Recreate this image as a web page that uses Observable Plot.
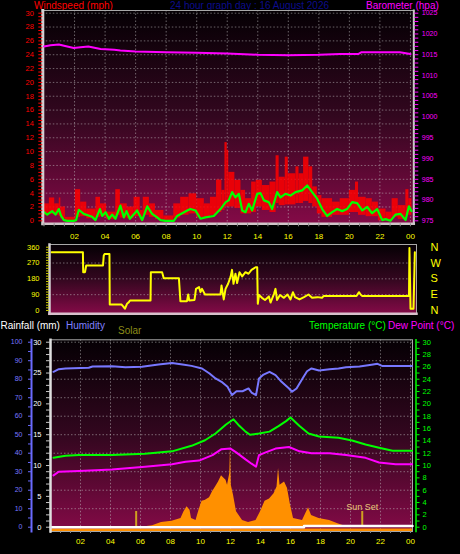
<!DOCTYPE html>
<html><head><meta charset="utf-8">
<script src="https://cdn.jsdelivr.net/npm/d3@7"></script>
<script src="https://cdn.jsdelivr.net/npm/@observablehq/plot@0.6"></script>
<style>
html,body{margin:0;padding:0;background:#000;}
#wrap{position:relative;width:460px;height:554px;overflow:hidden;background:#000;font-family:"Liberation Sans",Arial,sans-serif;}
#wrap svg{position:absolute;left:0;}
.lbl{position:absolute;font-size:10px;line-height:1;white-space:nowrap;}
</style></head><body><div id="wrap">
<div class="lbl" style="left:34px;top:0.5px;color:#ff0000">Windspeed (mph)</div>
<div class="lbl" style="left:170px;top:0.5px;color:#0c0c8c">24 hour graph day : 16 August 2026</div>
<div class="lbl" style="left:366px;top:0.5px;color:#ff00ff">Barometer (hpa)</div>
<div class="lbl" style="left:0.5px;top:320.5px;color:#ffffff">Rainfall (mm)</div>
<div class="lbl" style="left:66px;top:320.5px;color:#8080ff">Humidity</div>
<div class="lbl" style="left:118px;top:325.5px;color:#8c8c18">Solar</div>
<div class="lbl" style="left:309px;top:320.5px;color:#00ff00">Temperature (°C)</div>
<div class="lbl" style="left:388px;top:320.5px;color:#ff00ff">Dew Point (°C)</div>
</div>
<script>
// ---------- data (hours of the day) ----------
const hourTicks = [2,4,6,8,10,12,14,16,18,20,22,24];

// average wind speed (mph)
const windHours = [0,0.21,0.53,0.75,0.97,1.12,1.3,1.52,1.95,2.1,2.28,2.6,3.15,3.37,3.66,3.81,4.03,4.25,4.46,4.68,5.0,5.23,5.4,5.62,6.1,6.43,6.76,7.08,7.41,7.63,7.96,8.5,8.72,9.05,9.38,9.59,9.92,10.25,10.57,11.12,11.56,11.9,12.1,12.32,12.54,12.76,12.98,13.2,13.41,13.63,13.96,14.18,14.4,14.72,14.94,15.27,15.49,15.81,16.14,16.47,16.91,17.24,17.56,17.89,18.22,18.54,18.87,19.2,19.53,19.85,20.18,20.51,20.84,21.17,21.49,21.82,22.15,22.37,22.69,23.02,23.35,23.68,23.9,24.07];
const windAvg = [1.25,0.9,1.4,0.9,1.7,0.7,0.1,0,0,0.1,1.6,1.0,0.6,0.1,1.7,0.7,1.25,0.3,0.9,0.3,2.2,0.5,1.4,0.3,1.5,0.1,2.1,1.0,0.5,0.1,0,0,0.7,1.1,1.5,1.7,1.5,0.3,0.5,0.7,1.7,2.7,2.95,4.15,3.4,3.9,1.5,1.25,2.45,1.5,3.9,4.0,2.95,2.7,1.7,4.15,3.4,3.9,3.65,4.15,4.4,5.1,4.15,3.2,1.7,0.7,1.25,1.7,1.4,1.7,2.7,2.55,1.5,2.0,1.1,1.7,0.1,0.25,0,0.9,1.0,0.1,2.1,1.4];

// gust (mph): interval edges, high and low of each interval
const gustEdges = [0,0.35,0.7,1.0,1.1,1.4,2.05,2.4,2.8,3.4,3.7,4.1,4.7,5.0,5.45,5.9,6.3,6.5,6.9,7.3,7.85,8.5,8.95,9.5,10.0,10.5,10.9,11.3,11.65,11.85,12.0,12.1,12.5,12.9,13.2,13.6,13.9,14.3,14.8,15.2,15.4,15.8,16.0,16.5,16.7,17.0,17.35,17.6,17.9,18.2,18.9,19.4,20.0,20.4,20.6,21.1,21.5,21.9,22.4,22.8,23.2,23.7,23.9,24.1];
const gustHigh = [2.45,3.3,2.45,3.3,2.0,0.5,4.5,2.7,1.7,3.4,2.45,1.25,4.5,2.45,2.0,3.4,1.5,3.4,2.45,1.5,0.7,2.45,3.4,3.9,3.2,2.45,3.4,5.9,4.4,11.3,10.2,7.0,5.85,4.4,3.2,5.6,5.85,5.1,5.6,9.4,6.3,9.2,6.8,7.8,6.8,9.2,7.8,4.9,3.65,3.2,2.7,3.2,4.4,5.6,3.4,3.2,2.7,1.7,1.25,3.2,2.2,4.5,3.2];
const gustLow = [0.8,0.9,0.8,0.6,0.3,0,0.5,0.6,0.3,0.5,0.6,0.2,0.8,0.4,0.3,0.6,0.1,0.8,0.5,0.2,0,0.4,0.8,1.0,0.5,0.5,0.8,1.2,1.5,2.0,2.0,2.0,1.8,1.0,1.0,1.2,2.0,1.5,1.2,2.5,2.2,2.3,2.3,2.5,2.5,2.8,2.5,2.0,1.0,0.5,0.8,0.8,1.2,1.2,0.8,0.6,0.6,0,0,0.5,0.2,0.8,0.8];

// barometer (hpa)
const baroHours = [0,0.43,0.97,1.52,1.95,2.39,2.9,3.7,4.6,5.0,6,8,10,12,14,16,18,19.4,20.6,20.8,22.4,23.3,24.0];
const baro = [1017.0,1017.3,1017.45,1017.0,1016.6,1016.8,1017.0,1016.4,1016.2,1016.0,1015.8,1015.6,1015.5,1015.3,1015.0,1014.9,1015.0,1015.2,1015.2,1015.6,1015.6,1015.6,1015.2];

// wind direction (degrees)
const dirHours = [0.07,2.16,2.18,2.3,2.38,3.5,3.55,3.62,3.93,3.95,4.73,4.83,4.96,5.1,5.2,5.3,6.67,6.69,7.44,7.55,8.56,8.66,9.1,9.18,9.25,9.6,9.7,9.9,10.0,10.1,10.3,11.33,11.4,11.55,11.67,11.84,12.0,12.1,12.2,12.33,12.44,12.6,12.78,13.0,13.2,13.4,13.67,13.78,13.82,13.9,14.1,14.3,14.56,14.67,14.9,15.0,15.1,15.3,15.56,15.8,16.0,16.16,16.3,16.6,16.9,17.2,17.44,17.8,18.1,18.2,20.4,20.56,20.7,20.8,23.9,23.93,24.0,24.2,24.29];
const dirDeg = [332,332,218,218,256,256,313,322,322,34,34,25,10,38,45,57,57,218,218,184,184,53,53,91,57,60,123,133,104,123,91,91,142,63,123,152,190,231,152,209,156,218,194,218,209,231,246,246,38,88,72,60,80,45,95,123,60,88,72,91,63,104,76,63,76,91,72,76,72,82,82,104,88,82,82,356,10,10,332];
const dirTicks = [0,90,180,270,360];
const dirNames = ["N","E","S","W","N"];

// humidity (%)
const humHours = [0.2,0.55,1.0,2.55,2.8,4.1,5.0,6.1,7.2,8.1,8.8,9.4,10.1,10.6,11.0,11.4,11.8,12.1,12.4,12.8,13.2,13.4,13.7,13.9,14.2,14.6,15.0,15.4,15.9,16.1,16.4,16.8,17.1,17.4,17.9,18.6,19.2,19.7,20.6,21.4,21.8,22.1,24.1];
const hum = [84.0,85.4,85.8,86.2,86.9,87.0,86.5,86.7,88,88.7,88,87.2,85.8,83.1,80.4,78.6,75.9,71.4,73.5,73.5,75,72.8,71.4,80.4,82.5,84.0,82.2,78.6,75,73.2,75,80.4,84.3,85.8,84.7,85.4,85.8,86.5,86.9,87.8,88.3,87.2,87.2];

// temperature (°C)
const tempHours = [0.2,1.0,1.9,4.1,6.3,8.1,9.4,10.3,11.0,11.7,12.2,12.6,13.0,13.3,13.9,14.6,15.2,15.7,16.0,16.6,17.2,17.9,19.2,20.1,21.0,21.9,22.8,24.1];
const temp = [11.25,11.6,11.7,11.7,11.9,12.3,13.2,14.1,15.2,16.65,17.5,16.4,15.5,15.0,15.2,15.5,16.4,17.2,17.8,16.4,15.2,14.7,14.5,14.06,13.4,12.9,12.4,12.4];

// dew point (°C)
const dewHours = [0.2,0.55,1.9,4.1,6.3,8.1,9.0,9.9,10.8,11.4,12.0,12.4,13.0,13.4,13.7,13.9,14.3,15.0,15.9,16.6,17.4,18.6,19.7,21.0,21.9,23.0,24.1];
const dew = [8.4,9.0,9.1,9.35,9.8,10.2,10.6,10.8,11.7,12.65,12.75,12.1,11.0,10.3,9.8,11.7,12.1,12.75,13.0,12.3,12.0,12.0,11.7,11.25,10.5,10.2,10.2];

// solar radiation (W/m²)
const solarHours = [5.9,6.3,6.8,7.4,8.1,8.7,8.9,9.1,9.3,9.4,9.7,9.9,10.1,10.3,10.6,10.8,11.0,11.2,11.4,11.7,11.8,11.95,12.0,12.05,12.2,12.4,12.8,13.2,13.7,14.0,14.3,14.6,14.9,15.1,15.2,15.3,15.6,15.7,15.8,16.0,16.2,16.8,17.2,17.4,17.9,18.6,19.2,19.7,20.0];
const solar = [0,2,8,25,32,47,83,110,92,47,36,92,140,145,159,191,218,245,278,254,227,290,435,227,173,83,36,25,36,83,140,153,181,218,317,227,245,227,209,119,47,36,105,63,47,36,18,4,0];
const sunHours = [5.71, 20.78];
const sunLabels = ["", "Sun Set"];

// rainfall (mm)
const rainHours = [0, 16.9, 24.13];
const rain = [0, 0.2, 0.2];

// ---------- tables ----------
const pairs = (xs, ys) => xs.map((h, i) => ({h, v: ys[i]}));
const wind = pairs(windHours, windAvg);
const gust = gustHigh.map((hi, i) => ({from: gustEdges[i], to: gustEdges[i + 1], hi, lo: gustLow[i]}));
const baroData = pairs(baroHours, baro);
const dirData = pairs(dirHours, dirDeg);
const humData = pairs(humHours, hum);
const tempData = pairs(tempHours, temp);
const dewData = pairs(dewHours, dew);
const solarData = pairs(solarHours, solar);
const sunData = sunHours.map((h, i) => ({h, label: sunLabels[i]}));
const rainData = pairs(rainHours, rain);

// ---------- helpers ----------
const FONT = '"Liberation Sans", Arial, sans-serif';
const W = 460;
const wrap = document.getElementById("wrap");
const style = {background: "transparent", fontFamily: FONT, overflow: "visible", color: "#fff"};
const grid = {stroke: "#c8c8c8", strokeOpacity: 0.5, strokeDasharray: "1.5,2"};
const fmtHour = h => String(h % 24).padStart(2, "0");
const num = d => `${d}`;
const blank = () => "";
function place(svg, top, gradId) {
  svg.style.top = top + "px";
  if (gradId) {
    const defs = document.createElementNS("http://www.w3.org/2000/svg", "defs");
    defs.innerHTML = `<linearGradient id="${gradId}" x1="0" y1="0" x2="0" y2="1">
      <stop offset="0" stop-color="#050004"/><stop offset="0.5" stop-color="#33071f"/>
      <stop offset="1" stop-color="#840a47"/></linearGradient>`;
    svg.insertBefore(defs, svg.firstChild);
  }
  wrap.appendChild(svg);
}

// ---------- top panel: wind ----------
const topDims = {width: W, height: 245, marginTop: 10, marginBottom: 21.7, marginLeft: 42.3, marginRight: 46.7, style};
const topX = {domain: [-0.08, 24.22]};
place(Plot.plot({
  ...topDims,
  x: topX,
  y: {domain: [-0.43, 30.39]},
  marks: [
    Plot.frame({fill: "url(#gTop)"}),
    Plot.gridY(d3.range(2, 31, 2), grid),
    Plot.gridX(hourTicks, grid),
    Plot.rect(gust, {x1: "from", x2: "to", y1: "lo", y2: "hi", fill: "#ff0000", fillOpacity: 0.85}),
    Plot.line(wind, {x: "h", y: "v", stroke: "#00ff00", strokeWidth: 2.2}),
    Plot.frame({stroke: "#a8a8a8"}),
    Plot.frame({anchor: "left", stroke: "#d4d0d2", strokeWidth: 3}),
    Plot.frame({anchor: "bottom", stroke: "#d0c4c8", strokeWidth: 2.5}),
    Plot.frame({anchor: "right", stroke: "#c8c8c8", strokeWidth: 2}),
    Plot.axisY(d3.range(0, 30.01, 0.5), {tickSize: 4, tickFormat: blank, color: "#ff0000", label: null}),
    Plot.axisY(d3.range(0, 31, 2), {tickSize: 0, tickPadding: 9, tickFormat: num, color: "#ff0000", fontSize: 7.5, label: null}),
    Plot.axisX(hourTicks, {tickSize: 0, tickPadding: 10, tickFormat: fmtHour, color: "#ffff00", fontSize: 8, label: null}),
    Plot.axisX(d3.range(0, 24.2, 2 / 3), {tickSize: 3, tickFormat: blank, color: "#8a8a8a", label: null})
  ]
}), 0, "gTop");

place(Plot.plot({
  ...topDims,
  x: {...topX, axis: null},
  y: {domain: [974.283, 1025.65]},
  marks: [
    Plot.line(baroData, {x: "h", y: "v", stroke: "#ff00ff", strokeWidth: 2}),
    Plot.axisY(d3.range(975, 1025.1, 1), {anchor: "right", tickSize: 4, tickFormat: blank, color: "#ff00ff", label: null}),
    Plot.axisY(d3.range(975, 1026, 5), {anchor: "right", tickSize: 0, tickPadding: 8, tickFormat: num, color: "#ff00ff", fontSize: 7, label: null})
  ]
}), 0);

// ---------- middle panel: wind direction ----------
place(Plot.plot({
  width: W, height: 80, marginTop: 4, marginBottom: 6.7, marginLeft: 49, marginRight: 44, style,
  x: {domain: [-0.0667, 24.4], axis: null},
  y: {domain: [-18.8, 375.4]},
  marks: [
    Plot.frame({fill: "url(#gMid)"}),
    Plot.gridY(dirTicks.slice(1, 4), grid),
    Plot.line(dirData, {x: "h", y: "v", stroke: "#ffff00", strokeWidth: 2}),
    Plot.frame({stroke: "#a8a8a8"}),
    Plot.frame({anchor: "left", stroke: "#d4d0d2", strokeWidth: 2.5}),
    Plot.frame({anchor: "bottom", stroke: "#d8c0cc", strokeWidth: 2.5}),
    Plot.axisY(d3.range(0, 361, 15), {tickSize: 3, tickFormat: blank, color: "#c8c800", label: null}),
    Plot.axisY(dirTicks, {tickSize: 0, tickPadding: 10, tickFormat: num, color: "#ffff00", fontSize: 7.5, label: null}),
    Plot.axisY(dirTicks, {anchor: "right", tickSize: 0, tickPadding: 14, tickFormat: d => dirNames[dirTicks.indexOf(d)], color: "#ffff00", fontSize: 11, label: null})
  ]
}), 240, "gMid");

// ---------- bottom panel ----------
const botDims = {width: W, height: 224, marginTop: 9.3, marginBottom: 23, marginLeft: 50, marginRight: 48, style};
const botX = {domain: [0, 24.13]};

place(Plot.plot({
  ...botDims,
  x: botX,
  y: {domain: [-2.32, 101.3], axis: null},
  marks: [
    Plot.frame({fill: "url(#gBot)"}),
    Plot.gridY(d3.range(10, 101, 10), grid),
    Plot.gridX(hourTicks, grid),
    Plot.frame({stroke: "#a8a8a8"}),
    Plot.line(humData, {x: "h", y: "v", stroke: "#7878ff", strokeWidth: 2}),
    Plot.axisX(hourTicks, {tickSize: 0, tickPadding: 7.3, tickFormat: fmtHour, color: "#ffff00", fontSize: 8, label: null}),
    Plot.axisX(d3.range(0, 24.2, 2 / 3), {tickSize: 2, tickFormat: blank, color: "#8a8a8a", label: null})
  ]
}), 330, "gBot");

place(Plot.plot({
  ...botDims,
  x: {...botX, axis: null},
  y: {domain: [-23.2, 1013], axis: null},
  marks: [
    Plot.areaY(solarData, {x: "h", y: "v", fill: "#ff9000"}),
    Plot.ruleY([0], {stroke: "#ff9000", strokeWidth: 2.5, dy: 2.5}),
    Plot.ruleX(sunData, {x: "h", y1: 0, y2: 85, stroke: "#d0a020", strokeWidth: 2}),
    Plot.text(sunData.filter(d => d.label), {x: "h", y: 85, text: "label", lineAnchor: "bottom", dy: -1, fill: "#e8c878", fontSize: 9})
  ]
}), 330);

place(Plot.plot({
  ...botDims,
  x: {...botX, axis: null},
  y: {domain: [-0.696, 30.39]},
  marks: [
    Plot.line(rainData, {x: "h", y: "v", stroke: "#ffffff", strokeWidth: 2.5, curve: "step-after"}),
    Plot.frame({anchor: "left", stroke: "#e0e0e0", strokeWidth: 2.5}),
    Plot.axisY(d3.range(0, 30.01, 1), {tickSize: 4, tickFormat: blank, color: "#c8c8c8", label: null}),
    Plot.axisY(d3.range(0, 31, 5), {tickSize: 0, tickPadding: 9, tickFormat: num, color: "#ffffff", fontSize: 7.5, label: null})
  ]
}), 330);

place(Plot.plot({
  ...botDims,
  x: {...botX, axis: null},
  y: {domain: [-0.696, 30.39], axis: null},
  marks: [
    Plot.line(tempData, {x: "h", y: "v", stroke: "#00ff00", strokeWidth: 2}),
    Plot.line(dewData, {x: "h", y: "v", stroke: "#ff00ff", strokeWidth: 2})
  ]
}), 330);

// humidity axis (left, outside)
place(Plot.plot({
  ...botDims, marginLeft: 31,
  y: {domain: [-2.32, 101.3]},
  marks: [
    Plot.frame({anchor: "left", stroke: "#6a6aff", strokeWidth: 2}),
    Plot.axisY(d3.range(0, 101, 5), {tickSize: 3, tickFormat: blank, color: "#6a6aff", label: null}),
    Plot.axisY(d3.range(0, 101, 10), {tickSize: 0, tickPadding: 9, tickFormat: num, color: "#7878ff", fontSize: 7, label: null})
  ]
}), 330);

// temperature axis (right)
place(Plot.plot({
  ...botDims, marginRight: 44.5,
  y: {domain: [-0.696, 30.39]},
  marks: [
    Plot.frame({anchor: "right", stroke: "#00ff00", strokeWidth: 1.5}),
    Plot.axisY(d3.range(0, 30.01, 1), {anchor: "right", tickSize: 3, tickFormat: blank, color: "#00ff00", label: null}),
    Plot.axisY(d3.range(0, 31, 2), {anchor: "right", tickSize: 0, tickPadding: 6.5, tickFormat: num, color: "#00ff00", fontSize: 7.5, label: null})
  ]
}), 330);
</script></body></html>
